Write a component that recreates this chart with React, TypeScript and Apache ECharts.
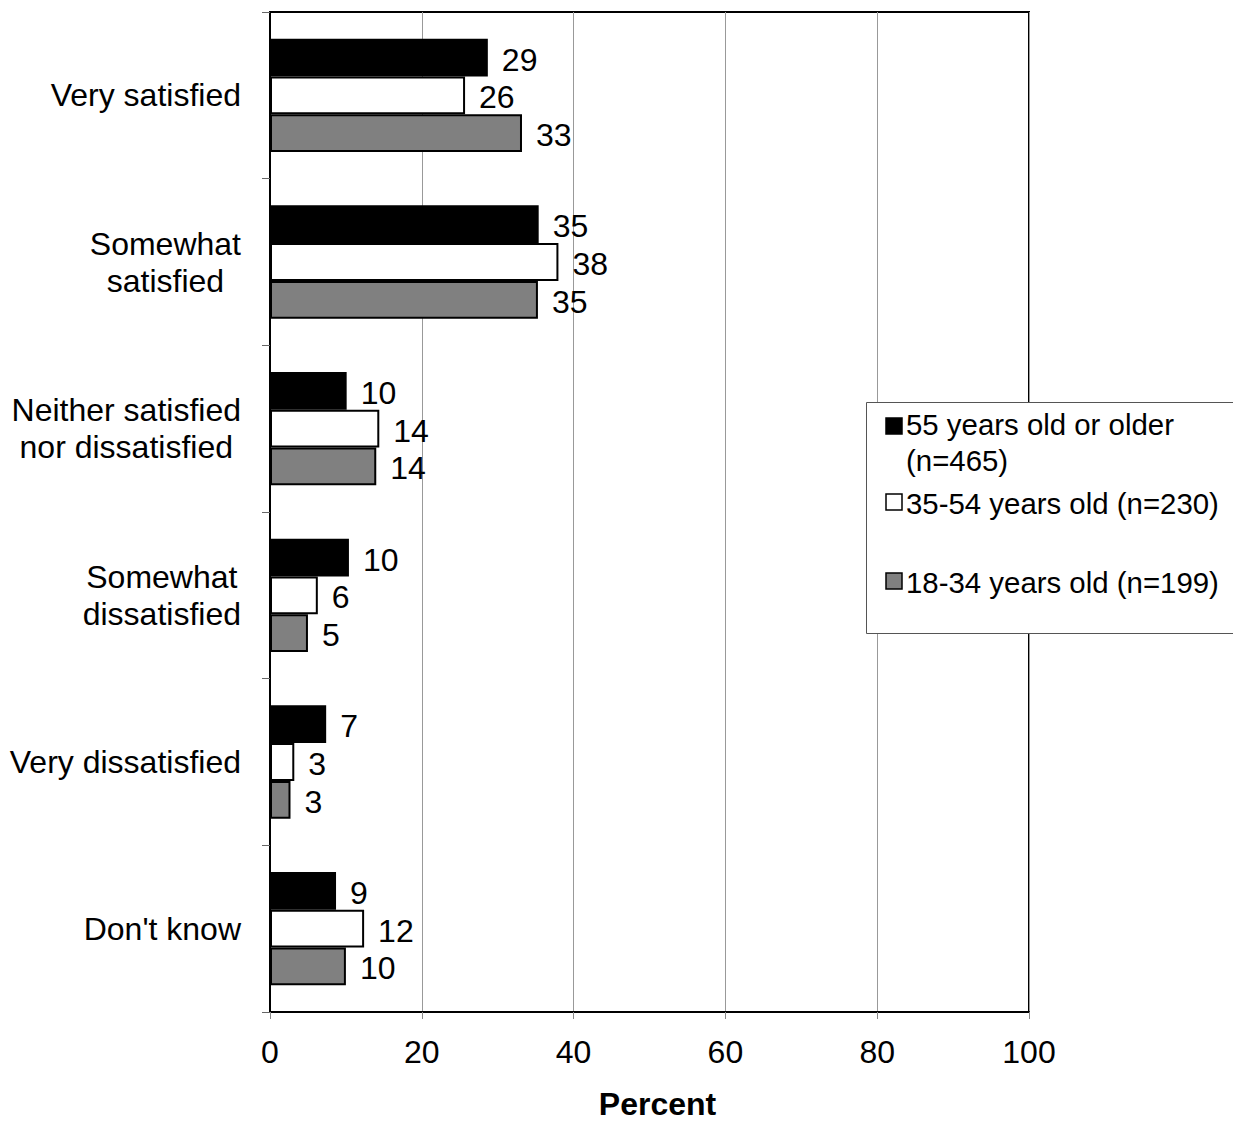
import React, { useEffect, useRef } from 'react';
import * as echarts from 'echarts';

const categories = [
  'Very satisfied',
  'Somewhat\nsatisfied',
  'Neither satisfied\nnor dissatisfied',
  'Somewhat\ndissatisfied',
  'Very dissatisfied',
  "Don't know",
];
const seriesNames = ['55 years old or older (n=465)', '35-54 years old (n=230)', '18-34 years old (n=199)'];
const legendLines = [['55 years old or older', '(n=465)'], ['35-54 years old (n=230)'], ['18-34 years old (n=199)']];
const older = [28.7, 35.4, 10.1, 10.4, 7.4, 8.7];
const middle = [25.7, 38.0, 14.4, 6.3, 3.2, 12.4];
const younger = [33.2, 35.3, 14.0, 5.0, 2.7, 10.0];
const seriesValues = [older, middle, younger];
const seriesColors = ['#000000', '#ffffff', '#808080'];
const xMin = 0;
const xMax = 100;
const xInterval = 20;
const axisTitle = 'Percent';

const FONT = '"Liberation Sans", Arial, Helvetica, sans-serif';

export default function App() {
  const ref = useRef<HTMLDivElement>(null);
  useEffect(() => {
    if (!ref.current) return;
    const chart = echarts.init(ref.current, null, { renderer: 'svg' });
    const legendMarkerY = [418, 494, 573];
    const legendTextY = [[424, 460], [503], [582]];
    const graphicEls: any[] = [
      {
        type: 'rect',
        z: 100,
        shape: { x: 866.5, y: 402.5, width: 420, height: 231 },
        style: { fill: '#ffffff', stroke: '#555555', lineWidth: 1 },
      },
    ];
    seriesNames.forEach((_, i) => {
      graphicEls.push({
        type: 'rect',
        z: 101,
        shape: { x: 886, y: legendMarkerY[i], width: 16, height: 16 },
        style: { fill: seriesColors[i], stroke: '#000', lineWidth: 1.5 },
      });
      legendLines[i].forEach((line, j) => {
        graphicEls.push({
          type: 'text',
          z: 101,
          x: 906,
          y: legendTextY[i][j],
          style: {
            text: line,
            fill: '#000',
            font: `29.4px ${FONT}`,
            verticalAlign: 'middle',
            align: 'left',
          },
        });
      });
    });

    chart.setOption({
      animation: false,
      backgroundColor: '#ffffff',
      textStyle: { fontFamily: FONT },
      grid: {
        left: 270,
        right: 204,
        top: 12,
        bottom: 107,
        show: true,
        borderColor: '#000',
        borderWidth: 2,
        containLabel: false,
      },
      xAxis: {
        type: 'value',
        min: xMin,
        max: xMax,
        interval: xInterval,
        name: axisTitle,
        nameLocation: 'middle',
        nameGap: 76,
        nameTextStyle: { fontSize: 32, fontWeight: 'bold', color: '#000', fontFamily: FONT, padding: [0, 0, 0, 16] },
        axisLine: { show: true, lineStyle: { color: '#000', width: 2 } },
        axisTick: { show: true, length: 7, lineStyle: { color: '#888', width: 1 } },
        axisLabel: { fontSize: 32, color: '#000', margin: 24, fontFamily: FONT },
        splitLine: { show: true, lineStyle: { color: '#999', width: 1 } },
      },
      yAxis: {
        type: 'category',
        data: categories,
        inverse: true,
        axisLine: { show: true, lineStyle: { color: '#000', width: 2 } },
        axisTick: { show: true, length: 8, lineStyle: { color: '#666', width: 1 } },
        axisLabel: {
          margin: 29,
          color: '#000',
          fontSize: 32,
          lineHeight: 37,
          fontFamily: FONT,
          formatter: (v: string) => v.split('\n').map((l) => `{c|${l}}`).join('\n'),
          rich: { c: { align: 'center', fontSize: 32, lineHeight: 37, fontFamily: FONT, color: '#000' } },
        },
      },
      series: seriesNames.map((name, i) => ({
        name,
        type: 'bar',
        data: seriesValues[i],
        barCategoryGap: '32%',
        barGap: '0%',
        itemStyle: { color: seriesColors[i], borderColor: '#000', borderWidth: 2 },
        label: {
          show: true,
          position: 'right',
          distance: 14,
          offset: [0, 2],
          color: '#000',
          fontSize: 32,
          fontFamily: FONT,
          formatter: (p: any) => String(Math.round(p.value)),
        },
      })),
      graphic: graphicEls,
    });
    return () => chart.dispose();
  }, []);
  return <div ref={ref} style={{ position: 'absolute', left: 0, top: 0, width: 1233, height: 1125 }} />;
}
